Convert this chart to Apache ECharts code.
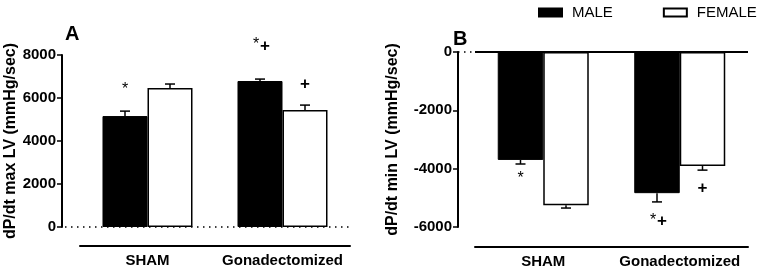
<!DOCTYPE html>
<html>
<head>
<meta charset="utf-8">
<script src="https://cdn.jsdelivr.net/npm/echarts@6/dist/echarts.min.js"></script>
<style>
  html, body { margin: 0; padding: 0; background: #fff; }
  #chart { width: 762px; height: 269px; }
</style>
</head>
<body>
<div id="chart"></div>
<script>
const categories = ["SHAM", "Gonadectomized"];
const maxMale = [5160, 6790];
const maxMaleErr = [230, 90];
const maxFemale = [6460, 5440];
const maxFemaleErr = [190, 230];
const minMale = [-3700, -4840];
const minMaleErr = [140, 300];
const minFemale = [-5250, -3910];
const minFemaleErr = [100, 140];
const maxTicks = [0, 8000, 2000];   // min, max, step
const minTicks = [-6000, 0, 2000];
// significance marks: [category, bar (-1 male, 1 female), value, text]
const maxMarks = [[0, -1, 6560, "*"], [1, -1, 8510, "*+"], [1, 1, 6650, "+"]];
const minMarks = [[0, -1, -4220, "*"], [1, -1, -5740, "*+"], [1, 1, -4660, "+"]];

const FONT = "'Liberation Sans', Arial, sans-serif";
const chart = echarts.init(document.getElementById("chart"));

const errRender = (side) => (params, api) => {
  const i = api.value(0);
  const mean = api.value(1);
  const err = api.value(2);
  const band = api.size([1, 0])[0];
  const base = api.coord([i, mean]);
  const x = base[0] + side * band / 6;
  const tip = api.coord([i, mean + Math.sign(mean) * err])[1];
  const st = { stroke: "#000", lineWidth: 1.5 };
  return {
    type: "group",
    children: [
      { type: "line", shape: { x1: x, y1: base[1], x2: x, y2: tip }, style: st },
      { type: "line", shape: { x1: x - 5, y1: tip, x2: x + 5, y2: tip }, style: st },
    ],
  };
};

const markRender = (marks) => (params, api) => {
  const m = marks[params.dataIndex];
  const band = api.size([1, 0])[0];
  const p = api.coord([m[0], m[2]]);
  const x = p[0] + m[1] * band / 6;
  const star = (sx, sy) => ({ type: "text", x: sx, y: sy + 4, style: { text: "*", font: "16px " + FONT, fill: "#000", align: "center", verticalAlign: "middle" } });
  const plus = (px, py) => ({ type: "text", x: px, y: py, style: { text: "+", font: "bold 17px " + FONT, fill: "#000", align: "center", verticalAlign: "middle" } });
  let children;
  if (m[3] === "*") children = [star(x, p[1])];
  else if (m[3] === "+") children = [plus(x, p[1])];
  else children = [star(x - 4, p[1] - 3), plus(x + 5, p[1] + 2)];
  return { type: "group", children };
};

const baseRender = (solid) => (params, api) => {
  const cs = params.coordSys;
  const y = api.coord([0, 0])[1];
  const dots = { stroke: "#000", lineWidth: 1.5, lineDash: [1.5, 4.5] };
  if (!solid) {
    return { type: "line", shape: { x1: cs.x - 15, y1: y, x2: cs.x + cs.width, y2: y }, style: dots };
  }
  return {
    type: "group",
    children: [
      { type: "line", shape: { x1: cs.x - 17, y1: y, x2: cs.x, y2: y }, style: dots },
      { type: "line", shape: { x1: cs.x, y1: y, x2: cs.x + cs.width, y2: y }, style: { stroke: "#000", lineWidth: 2 } },
    ],
  };
};

const xAxisBase = (gi, off) => ({
  type: "category",
  gridIndex: gi,
  data: categories,
  position: "bottom",
  offset: off,
  axisLine: { onZero: false, lineStyle: { color: "#000", width: 2 } },
  axisTick: { alignWithLabel: true, length: 5, lineStyle: { color: "#000", width: 2 } },
  axisLabel: { interval: 0, color: "#000", fontFamily: FONT, fontWeight: "bold", fontSize: 15, margin: 7 },
  splitLine: { show: false },
});

const yAxisBase = (gi, ticks, off, name, gap) => ({
  type: "value",
  gridIndex: gi,
  min: ticks[0],
  max: ticks[1],
  interval: ticks[2],
  offset: off,
  name: name,
  nameLocation: "middle",
  nameGap: gap,
  nameTextStyle: { color: "#000", fontFamily: FONT, fontWeight: "bold", fontSize: 16 },
  axisLine: { show: true, lineStyle: { color: "#000", width: 2 } },
  axisTick: { show: true, length: 5, lineStyle: { color: "#000", width: 1.5 } },
  axisLabel: { formatter: (v) => String(v), color: "#000", fontFamily: FONT, fontWeight: "bold", fontSize: 15, margin: 6 },
  splitLine: { show: false },
});

const barSeries = (name, gi, data, female) => ({
  name: name,
  type: "bar",
  xAxisIndex: gi,
  yAxisIndex: gi,
  data: data,
  barGap: "0%",
  barCategoryGap: "33.33%",
  itemStyle: female ? { color: "#fff", borderColor: "#000", borderWidth: 1.5 } : { color: "#000", borderColor: "#000", borderWidth: 1 },
  emphasis: { disabled: true },
});

const errSeries = (gi, vals, errs, side) => ({
  type: "custom",
  xAxisIndex: gi,
  yAxisIndex: gi,
  data: vals.map((v, i) => [i, v, errs[i]]),
  renderItem: errRender(side),
  clip: false,
  z: 3,
});

chart.setOption({
  animation: false,
  title: [
    { text: "A", left: 60, top: 19, textStyle: { fontFamily: FONT, fontWeight: "bold", fontSize: 20, color: "#000" } },
    { text: "B", left: 448, top: 24, textStyle: { fontFamily: FONT, fontWeight: "bold", fontSize: 20, color: "#000" } },
  ],
  legend: {
    data: ["MALE", "FEMALE"],
    orient: "horizontal",
    left: 538,
    top: 5,
    width: 230,
    padding: 0,
    itemWidth: 23,
    itemHeight: 8,
    itemGap: 50,
    icon: "rect",
    textStyle: { color: "#000", fontFamily: FONT, fontSize: 15, padding: [0, 0, 0, 5] },
  },
  grid: [
    { left: 80, right: 412, top: 55, bottom: 42 },
    { left: 475, right: 14, top: 52, bottom: 42 },
  ],
  xAxis: [xAxisBase(0, 19), xAxisBase(1, 20)],
  yAxis: [
    yAxisBase(0, maxTicks, 18, "dP/dt max LV (mmHg/sec)", 39),
    yAxisBase(1, minTicks, 17, "dP/dt min LV (mmHg/sec)", 57),
  ],
  series: [
    barSeries("MALE", 0, maxMale, false),
    barSeries("FEMALE", 0, maxFemale, true),
    barSeries("MALE", 1, minMale, false),
    barSeries("FEMALE", 1, minFemale, true),
    errSeries(0, maxMale, maxMaleErr, -1),
    errSeries(0, maxFemale, maxFemaleErr, 1),
    errSeries(1, minMale, minMaleErr, -1),
    errSeries(1, minFemale, minFemaleErr, 1),
    { type: "custom", xAxisIndex: 0, yAxisIndex: 0, data: maxMarks.map((m) => [m[0], m[2]]), renderItem: markRender(maxMarks), clip: false, z: 4 },
    { type: "custom", xAxisIndex: 1, yAxisIndex: 1, data: minMarks.map((m) => [m[0], m[2]]), renderItem: markRender(minMarks), clip: false, z: 4 },
    { type: "custom", xAxisIndex: 0, yAxisIndex: 0, data: [[0, 0]], renderItem: baseRender(false), clip: false, z: 5 },
    { type: "custom", xAxisIndex: 1, yAxisIndex: 1, data: [[0, 0]], renderItem: baseRender(true), clip: false, z: 5 },
  ],
});
</script>
</body>
</html>
